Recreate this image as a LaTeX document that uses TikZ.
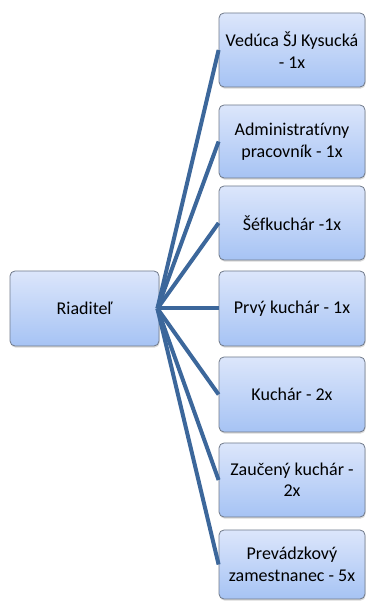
\documentclass[tikz,border=0pt]{standalone}
\usepackage{fontspec}
\setmainfont[Ligatures=NoCommon]{Carlito}
\usetikzlibrary{shadows}
\definecolor{boxtop}{RGB}{220,230,251}
\definecolor{boxbot}{RGB}{166,195,244}
\definecolor{boxline}{RGB}{112,122,138}
\definecolor{conn}{RGB}{60,103,155}
\tikzset{
  orgbox/.style={draw=boxline, line width=0.8pt, rounded corners=5pt,
    top color=boxtop, bottom color=boxbot, align=center,
    font=\fontsize{18}{21.5}\selectfont, inner sep=2pt,
    drop shadow={shadow xshift=0.6pt, shadow yshift=-1.6pt, opacity=0.25, fill=black!60}},
  conn/.style={draw=conn, line width=4pt, line cap=butt}
}
\begin{document}
\begin{tikzpicture}[x=1pt,y=1pt]
\useasboundingbox (0,0) rectangle (366,601);
% y_tikz = 601 - y_px
\node[orgbox, minimum width=149pt, minimum height=75pt] (r) at (84.5,292.5) {Riaditeľ};
\node[orgbox, minimum width=146pt, minimum height=74pt] (b1) at (292,551) {Vedúca ŠJ Kysucká\\- 1x};
\node[orgbox, minimum width=146pt, minimum height=73pt] (b2) at (292,459.5) {Administratívny\\pracovník - 1x};
\node[orgbox, minimum width=146pt, minimum height=74pt] (b3) at (292,378) {Šéfkuchár -1x};
\node[orgbox, minimum width=146pt, minimum height=75pt] (b4) at (292,292.5) {Prvý kuchár - 1x};
\node[orgbox, minimum width=146pt, minimum height=75pt] (b5) at (292,206.5) {Kuchár - 2x};
\node[orgbox, minimum width=146pt, minimum height=74pt] (b6) at (292,121) {Zaučený kuchár -\\2x};
\node[orgbox, minimum width=146pt, minimum height=69pt] (b7) at (292,36.5) {Prevádzkový\\zamestnanec - 5x};
\coordinate (o) at ([xshift=-2pt]r.east);
\foreach \b in {b1,b2,b3,b4,b5,b6,b7}{
  \draw[conn] (o) -- (\b.west);
}
\end{tikzpicture}
\end{document}
